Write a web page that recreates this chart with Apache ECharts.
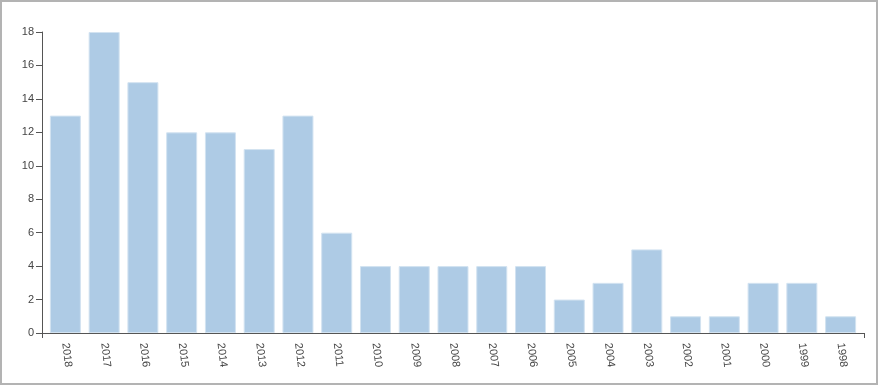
<!DOCTYPE html>
<html>
<head>
<meta charset="utf-8">
<script src="https://cdn.jsdelivr.net/npm/echarts@6/dist/echarts.min.js"></script>
<style>
html,body{margin:0;padding:0;background:#fff;}
#wrap{width:874px;height:381px;border:2px solid #b3b3b3;}
#chart{width:874px;height:381px;}
</style>
</head>
<body>
<div id="wrap"><div id="chart"></div></div>
<script>
const categories = ['2018','2017','2016','2015','2014','2013','2012','2011','2010','2009','2008','2007','2006','2005','2004','2003','2002','2001','2000','1999','1998'];
const values = [13,18,15,12,12,11,13,6,4,4,4,4,4,2,3,5,1,1,3,3,1];
const yTicks = [0,2,4,6,8,10,12,14,16,18];

const font = 'Liberation Sans, Arial, sans-serif';
const axisColor = '#555';
const textColor = '#444';
const chart = echarts.init(document.getElementById('chart'));
chart.setOption({
  animation:false,
  grid:[
    {left:40,right:12,top:30,bottom:50},
    {left:44,right:16,top:30,bottom:50}
  ],
  xAxis:[
    {
      type:'value',gridIndex:0,min:0,max:1,interval:1,
      splitLine:{show:false},
      axisLine:{show:true,lineStyle:{color:axisColor,width:1}},
      axisTick:{show:true,length:5,lineStyle:{color:axisColor}},
      axisLabel:{show:false}
    },
    {
      type:'category',gridIndex:1,
      data:categories,
      axisLine:{show:false},
      axisTick:{alignWithLabel:true,length:5,lineStyle:{color:axisColor}},
      axisLabel:{rotate:-83,color:textColor,fontSize:11,fontFamily:font,margin:10}
    }
  ],
  yAxis:[
    {
      type:'value',gridIndex:0,
      min:yTicks[0],max:yTicks[yTicks.length-1],interval:2,
      splitLine:{show:false},
      axisLine:{show:true,lineStyle:{color:axisColor,width:1}},
      axisTick:{show:true,length:6,lineStyle:{color:axisColor}},
      axisLabel:{color:textColor,fontSize:11,fontFamily:font,margin:8}
    },
    {
      type:'value',gridIndex:1,
      min:yTicks[0],max:yTicks[yTicks.length-1],interval:2,
      show:false
    }
  ],
  series:[{
    type:'bar',
    xAxisIndex:1,yAxisIndex:1,
    data:values,
    barCategoryGap:'20%',
    itemStyle:{color:'#aecbe5',borderColor:'#d3e3f1',borderWidth:1}
  }]
});
</script>
</body>
</html>
